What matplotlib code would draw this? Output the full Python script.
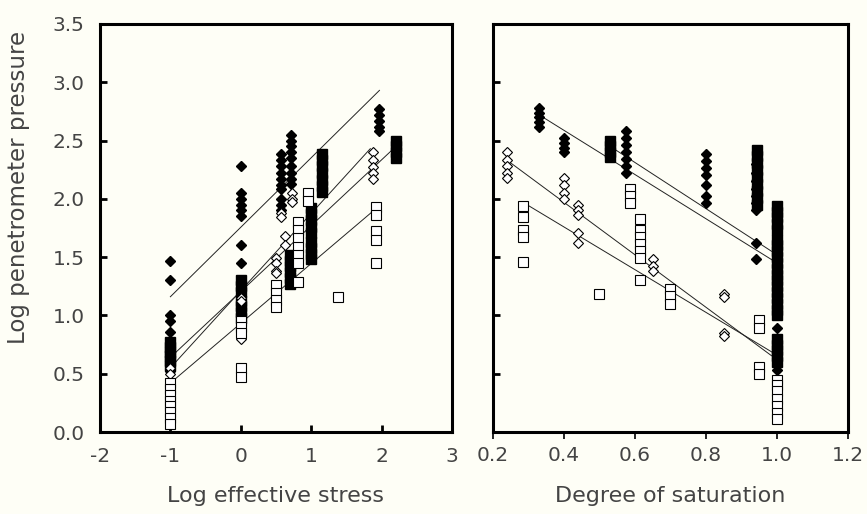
import numpy as np
import matplotlib.pyplot as plt

plt.rcParams['font.family'] = ['DejaVu Sans']
plt.rcParams['axes.unicode_minus'] = False

# ---- Painel esquerdo: log tensão efetiva ----
st_fd_x = [-1]*11 + [0]*8 + [0.57]*10 + [0.72]*9 + [1.97]*5
st_fd_y = [1.47, 1.30, 1.00, 0.95, 0.86, 0.75, 0.70, 0.66, 0.62, 0.58, 0.52,
           2.28, 2.05, 2.00, 1.95, 1.90, 1.85, 1.60, 1.45,
           2.38, 2.33, 2.28, 2.22, 2.17, 2.12, 2.08, 2.00, 1.95, 1.90,
           2.55, 2.50, 2.45, 2.40, 2.35, 2.28, 2.22, 2.17, 2.13,
           2.77, 2.72, 2.67, 2.62, 2.58]

st_fs_x = [-1]*6 + [0]*7 + [0.7]*6 + [1.0]*9 + [1.15]*7 + [2.2]*4
st_fs_y = [0.77, 0.73, 0.69, 0.65, 0.61, 0.57,
           1.30, 1.25, 1.20, 1.12, 1.08, 1.03, 0.98,
           1.52, 1.47, 1.42, 1.37, 1.32, 1.27,
           1.92, 1.87, 1.82, 1.76, 1.71, 1.63, 1.58, 1.53, 1.48,
           2.38, 2.33, 2.28, 2.22, 2.16, 2.11, 2.06,
           2.50, 2.45, 2.40, 2.35]

st_od_x = [-1]*2 + [0]*4 + [0.5]*4 + [0.63]*2 + [0.57]*2 + [0.73]*3 + [1.88]*5
st_od_y = [0.55, 0.50,
           1.15, 1.12, 0.83, 0.80,
           1.49, 1.45, 1.38, 1.36,
           1.68, 1.60,
           1.88, 1.84,
           2.05, 2.00, 1.97,
           2.40, 2.33, 2.27, 2.22, 2.17]

st_os_x = [-1]*8 + [0]*5 + [0.5]*4 + [0.82]*7 + [0.95]*2 + [1.38] + [1.92]*5
st_os_y = [0.42, 0.37, 0.32, 0.27, 0.22, 0.17, 0.12, 0.07,
           0.95, 0.90, 0.85, 0.55, 0.47,
           1.26, 1.19, 1.13, 1.07,
           1.80, 1.73, 1.66, 1.59, 1.52, 1.45, 1.29,
           2.05, 1.98,
           1.16,
           1.93, 1.86, 1.72, 1.65, 1.45]

# retas de ajuste (x inicial, x final), (y inicial, y final)
st_fit_fd = ([-1, 1.97], [1.16, 2.93])
st_fit_fs = ([-1, 2.17], [0.64, 2.43])
st_fit_od = ([-1, 1.84], [0.55, 2.43])
st_fit_os = ([-1, 1.85], [0.42, 1.88])

# ---- Painel direito: grau de saturação ----
sat_fd_x = [0.33]*5 + [0.40]*4 + [0.575]*7 + [0.80]*7 + [0.94]*9 + [1.0]*2
sat_fd_y = [2.78, 2.74, 2.70, 2.66, 2.62,
            2.52, 2.48, 2.44, 2.40,
            2.58, 2.52, 2.46, 2.40, 2.34, 2.28, 2.22,
            2.38, 2.32, 2.26, 2.20, 2.12, 2.02, 1.96,
            2.30, 2.22, 2.15, 2.08, 2.02, 1.96, 1.90, 1.62, 1.48,
            0.89, 0.53]

sat_fs_x = [0.53]*4 + [0.945]*9 + [1.0]*24
sat_fs_y = [2.50, 2.45, 2.40, 2.36,
            2.42, 2.37, 2.31, 2.25, 2.19, 2.13, 2.07, 2.01, 1.95,
            1.94, 1.89, 1.84, 1.78, 1.73, 1.65, 1.60, 1.55, 1.50, 1.45,
            1.40, 1.35, 1.30, 1.25, 1.20, 1.15, 1.10, 1.05, 1.00,
            0.80, 0.75, 0.70, 0.65, 0.60]

sat_od_x = [0.24]*5 + [0.40]*4 + [0.44]*5 + [0.65]*3 + [0.85]*4
sat_od_y = [2.40, 2.33, 2.28, 2.22, 2.18,
            2.18, 2.12, 2.05, 2.00,
            1.95, 1.90, 1.86, 1.71, 1.62,
            1.48, 1.42, 1.38,
            1.18, 1.16, 0.85, 0.82]

sat_os_x = [0.285]*5 + [0.50] + [0.585]*3 + [0.615]*7 + [0.70]*3 + [0.95]*4 + [1.0]*7
sat_os_y = [1.94, 1.84, 1.73, 1.67, 1.46,
            1.18,
            2.08, 2.02, 1.96,
            1.83, 1.73, 1.67, 1.61, 1.55, 1.49, 1.30,
            1.23, 1.17, 1.10,
            0.96, 0.89, 0.56, 0.50,
            0.45, 0.40, 0.35, 0.28, 0.22, 0.16, 0.11]

sat_fit_fd = ([0.33, 1.0], [2.72, 1.45])
sat_fit_fs = ([0.53, 1.0], [2.45, 1.52])
sat_fit_od = ([0.24, 1.0], [2.33, 0.62])
sat_fit_os = ([0.29, 1.0], [1.96, 0.66])

fundo = '#fefef6'
cor_texto = '#444444'
fig = plt.figure(figsize=(8.67, 5.14), dpi=100, facecolor=fundo)
ax1 = fig.add_axes([0.1153, 0.1595, 0.406, 0.794], facecolor=fundo)
ax2 = fig.add_axes([0.5686, 0.1595, 0.4094, 0.794], facecolor=fundo)


def desenha(ax, fd, fs, od, os_, fits):
    for xs, ys in fits:
        ax.plot(xs, ys, color='#222222', linewidth=0.7, zorder=2)
    ax.plot(*fd, linestyle='none', marker='D', ms=5.5, color='black', zorder=3)
    ax.plot(*fs, linestyle='none', marker='s', ms=6.5, color='black', zorder=3)
    ax.plot(*od, linestyle='none', marker='D', ms=5.5, mfc='white', mec='black',
            mew=0.8, zorder=4)
    ax.plot(*os_, linestyle='none', marker='s', ms=7, mfc='white', mec='black',
            mew=0.8, zorder=4)
    for s in ax.spines.values():
        s.set_linewidth(2.2)
    ax.set_ylim(0, 3.5)


desenha(ax1, (st_fd_x, st_fd_y), (st_fs_x, st_fs_y), (st_od_x, st_od_y),
        (st_os_x, st_os_y), [st_fit_fd, st_fit_fs, st_fit_od, st_fit_os])
desenha(ax2, (sat_fd_x, sat_fd_y), (sat_fs_x, sat_fs_y), (sat_od_x, sat_od_y),
        (sat_os_x, sat_os_y), [sat_fit_fd, sat_fit_fs, sat_fit_od, sat_fit_os])

ax1.set_xlim(-2, 3)
ax1.set_xticks([-2, -1, 0, 1, 2, 3])
ax1.set_yticks(np.arange(0, 3.51, 0.5))
ax1.set_yticklabels(['%.1f' % v for v in np.arange(0, 3.51, 0.5)])
ax1.tick_params(direction='in', length=5, width=2, labelsize=14.5, pad=11,
                colors='black', labelcolor=cor_texto)
ax1.set_xlabel('Log effective stress', fontsize=16, color=cor_texto)
ax1.xaxis.set_label_coords(0.5, -0.133)
ax1.set_ylabel('Log penetrometer pressure', fontsize=16.5, color=cor_texto)
ax1.yaxis.set_label_coords(-0.2, 0.6)

ax2.set_xlim(0.2, 1.2)
ax2.set_xticks([0.2, 0.4, 0.6, 0.8, 1.0, 1.2])
ax2.set_xticklabels(['0.2', '0.4', '0.6', '0.8', '1.0', '1.2'])
ax2.set_yticks(np.arange(0, 3.51, 0.5))
ax2.set_yticklabels([])
ax2.tick_params(axis='y', direction='in', length=5, width=2)
ax2.tick_params(axis='x', direction='out', length=5, width=1.2, labelsize=14.5,
                pad=5, labelcolor=cor_texto)
ax2.set_xlabel('Degree of saturation', fontsize=16, color=cor_texto)
ax2.xaxis.set_label_coords(0.5, -0.133)

plt.savefig('out.png', dpi=100, facecolor=fundo)
